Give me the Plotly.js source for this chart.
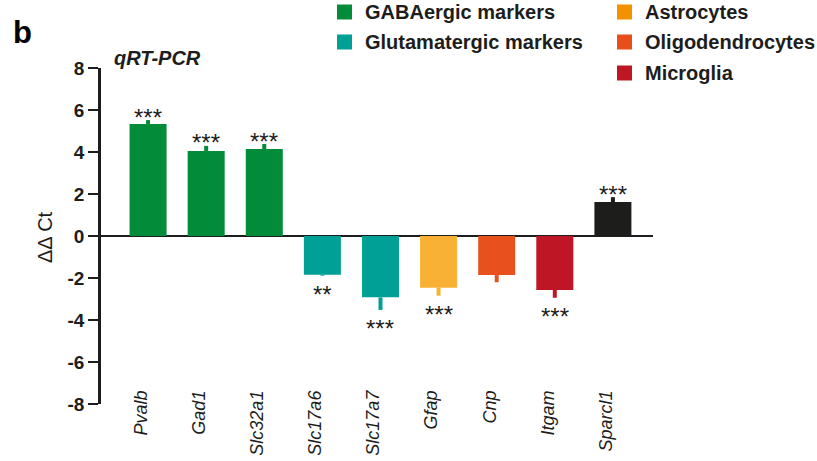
<!DOCTYPE html>
<html>
<head>
<meta charset="utf-8">
<script src="https://cdn.plot.ly/plotly-3.0.1.min.js"></script>
<style>html,body{margin:0;padding:0;background:#fff;}#chart{width:817px;height:461px;}</style>
</head>
<body>
<div id="chart"></div>
<script>
// ---- data ----
const genes = ["Pvalb", "Gad1", "Slc32a1", "Slc17a6", "Slc17a7", "Gfap", "Cnp", "Itgam", "Sparcl1"];
const ddCt = [5.33, 4.05, 4.14, -1.84, -2.92, -2.46, -1.86, -2.57, 1.62];
const sem = [0.19, 0.24, 0.24, 0.05, 0.60, 0.38, 0.34, 0.37, 0.23];
const significance = ["***", "***", "***", "**", "***", "***", "", "***", "***"];
const yTickVals = [-8, -6, -4, -2, 0, 2, 4, 6, 8];
const yTickText = ["-8", "-6", "-4", "-2", "0", "2", "4", "6", "8"];
const legendLabelsLeft = ["GABAergic markers", "Glutamatergic markers"];
const legendLabelsRight = ["Astrocytes", "Oligodendrocytes", "Microglia"];

// ---- styles ----
const barColors = ["#028C3A", "#028C3A", "#028C3A", "#00A096", "#00A096", "#F8B134", "#E8501E", "#BE1624", "#1D1D1B"];
const legendColorsLeft = ["#028C3A", "#00A096"];
const legendColorsRight = ["#F39200", "#E84E1B", "#BE1622"];
const FONT = "Liberation Sans, Arial, Helvetica, sans-serif";
const INK = "#1D1D1B";

// plot area in pixels
const L = 101, R = 653, T = 68, B = 404;
const px2x = p => (p - L) / (R - L);
const px2y = p => (B - p) / (B - T);

const errPlus = ddCt.map((v, i) => v >= 0 ? sem[i] : 0);
const errMinus = ddCt.map((v, i) => v < 0 ? sem[i] : 0);

const trace = {
  type: "bar",
  x: genes,
  y: ddCt,
  marker: { color: barColors, line: { width: 0 } },
  hoverinfo: "x+y",
  showlegend: false
};

// one invisible overlay bar per gene carries its one-sided error bar in the bar colour
const errTraces = genes.map((g, i) => ({
  type: "bar",
  x: [g],
  y: [ddCt[i]],
  marker: { color: "rgba(0,0,0,0)" },
  error_y: {
    type: "data", symmetric: false,
    array: [errPlus[i]], arrayminus: [errMinus[i]],
    color: barColors[i], thickness: 4, width: 0, visible: true
  },
  hoverinfo: "skip",
  showlegend: false
}));

const annotations = [];
// significance stars
genes.forEach((g, i) => {
  if (!significance[i]) return;
  const tip = ddCt[i] >= 0 ? ddCt[i] + sem[i] : ddCt[i] - sem[i];
  annotations.push({
    x: g, y: tip, xref: "x", yref: "y",
    text: significance[i], showarrow: false,
    xanchor: "center", yanchor: "middle",
    yshift: ddCt[i] >= 0 ? 3 : -19,
    font: { family: FONT, size: 24, color: INK }
  });
});
// panel letter, title, y-axis title
annotations.push({
  xref: "paper", yref: "paper", x: px2x(11), y: px2y(33), xanchor: "left", yanchor: "middle",
  text: "b", showarrow: false, font: { family: FONT, size: 31, color: "#000", weight: "bold" }
});
annotations.push({
  xref: "paper", yref: "paper", x: px2x(112), y: px2y(58), xanchor: "left", yanchor: "middle",
  text: "<i>qRT-PCR</i>", showarrow: false, font: { family: FONT, size: 20, color: INK, weight: "bold" }
});
annotations.push({
  xref: "paper", yref: "paper", x: px2x(45), y: px2y(237), xanchor: "center", yanchor: "middle",
  text: "ΔΔ Ct", textangle: -90, showarrow: false, font: { family: FONT, size: 20, color: INK }
});

// legend (manual, two columns)
const shapes = [];
function legendItem(label, color, sqX, rowY) {
  shapes.push({
    type: "rect", xref: "paper", yref: "paper",
    x0: px2x(sqX), x1: px2x(sqX + 15), y0: px2y(rowY - 7.5), y1: px2y(rowY + 7.5),
    fillcolor: color, line: { width: 0 }
  });
  annotations.push({
    xref: "paper", yref: "paper", x: px2x(sqX + 26), y: px2y(rowY), xanchor: "left", yanchor: "middle",
    text: label, showarrow: false, font: { family: FONT, size: 20, color: INK, weight: "bold" }
  });
}
const rowsY = [12, 42, 73];
legendLabelsLeft.forEach((lab, i) => legendItem(lab, legendColorsLeft[i], 337, rowsY[i]));
legendLabelsRight.forEach((lab, i) => legendItem(lab, legendColorsRight[i], 617, rowsY[i]));

const layout = {
  width: 817, height: 461,
  margin: { l: L, r: 817 - R, t: T, b: 461 - B, pad: 0 },
  paper_bgcolor: "#fff", plot_bgcolor: "#fff",
  bargap: 0.363,
  barmode: "overlay",
  showlegend: false,
  xaxis: {
    type: "category",
    range: [-0.81, 8.69],
    anchor: "free", position: px2y(386),
    showline: false, zeroline: false, showgrid: false, ticks: "",
    tickangle: -90, ticklabelshift: -7,
    tickfont: { family: FONT, size: 18, color: INK, style: "italic" },
    fixedrange: true
  },
  yaxis: {
    range: [-8, 8],
    tickvals: yTickVals, ticktext: yTickText,
    ticks: "outside", ticklen: 10, tickwidth: 2.8, tickcolor: INK,
    showline: true, linewidth: 2.8, linecolor: INK,
    showgrid: false,
    zeroline: true, zerolinewidth: 2.8, zerolinecolor: INK,
    tickfont: { family: FONT, size: 19, color: INK, weight: "bold" },
    fixedrange: true
  },
  annotations: annotations,
  shapes: shapes
};

Plotly.newPlot("chart", [trace].concat(errTraces), layout, { displayModeBar: false, staticPlot: true });
</script>
</body>
</html>
